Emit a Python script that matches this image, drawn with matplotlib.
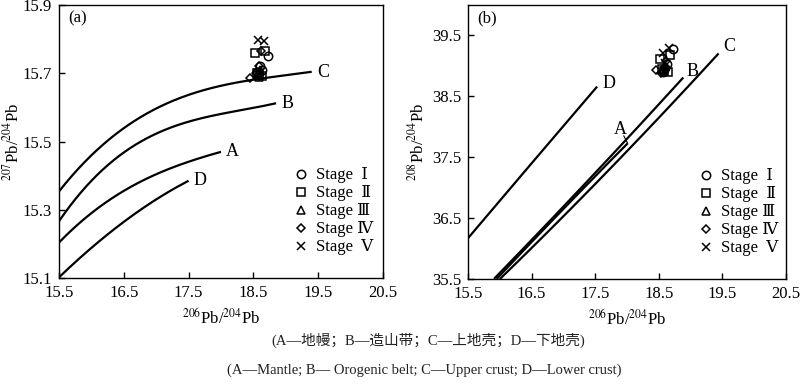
import matplotlib
matplotlib.use("Agg")
import matplotlib.pyplot as plt
import numpy as np

plt.rcParams['font.family'] = ['Liberation Serif', 'DejaVu Serif', 'Noto Sans CJK SC']
plt.rcParams['mathtext.fontset'] = 'stix'

# ---- Data: 207Pb/204Pb vs 206Pb/204Pb (panel a) ----
a_C_x = [15.5, 16.0, 16.5, 17.0, 17.5, 18.0, 18.5, 19.0, 19.4]
a_C_y = [15.352, 15.462, 15.540, 15.598, 15.632, 15.662, 15.684, 15.697, 15.702]
a_B_x = [15.5, 16.0, 16.5, 17.0, 17.5, 18.0, 18.5, 18.85]
a_B_y = [15.266, 15.385, 15.470, 15.522, 15.555, 15.583, 15.600, 15.611]
a_A_x = [15.5, 16.0, 16.5, 17.0, 17.5, 18.0]
a_A_y = [15.204, 15.290, 15.355, 15.405, 15.440, 15.470]
a_D_x = [15.5, 16.0, 16.5, 17.0, 17.5]
a_D_y = [15.102, 15.188, 15.265, 15.330, 15.385]

# ---- Data: 208Pb/204Pb vs 206Pb/204Pb (panel b) ----
b_C_x = [16.0, 16.8, 17.63, 18.5, 19.44]
b_C_y = [35.5, 36.32, 37.19, 38.16, 39.20]
b_B_x = [15.91, 16.7, 17.47, 18.2, 18.885]
b_B_y = [35.5, 36.37, 37.20, 38.03, 38.81]
b_A_x = [15.95, 16.7, 17.47, 18.01]
b_A_y = [35.5, 36.33, 37.15, 37.73]
b_D_x = [15.5, 16.5, 17.53]
b_D_y = [36.17, 37.40, 38.66]

# ---- Samples by stage: 206Pb/204Pb, 207Pb/204Pb, 208Pb/204Pb ----
s1_206 = [18.56, 18.60, 18.63, 18.73]
s1_207 = [15.705, 15.720, 15.710, 15.752]
s1_208 = [38.90, 38.97, 39.03, 39.27]
s2_206 = [18.52, 18.58, 18.64, 18.68, 18.55]
s2_207 = [15.758, 15.695, 15.692, 15.765, 15.700]
s2_208 = [39.12, 38.92, 38.90, 39.18, 38.95]
s3_206 = [18.57, 18.60, 18.58]
s3_207 = [15.700, 15.710, 15.690]
s3_208 = [38.93, 39.00, 38.95]
s4_206 = [18.45, 18.54, 18.62, 18.59]
s4_207 = [15.685, 15.700, 15.765, 15.720]
s4_208 = [38.93, 38.88, 39.08, 38.98]
s5_206 = [18.57, 18.66, 18.60]
s5_207 = [15.798, 15.795, 15.705]
s5_208 = [39.22, 39.30, 39.05]

stage_labels = ['Stage  \u2160', 'Stage  \u2161', 'Stage \u2162', 'Stage \u2163', 'Stage  \u2164']
stage_markers = ['o', 's', '^', 'D', 'x']
stage_sizes = [6, 6, 6, 4.5, 6]

x_ticks = [15.5, 16.5, 17.5, 18.5, 19.5, 20.5]
a_yticks = [15.1, 15.3, 15.5, 15.7, 15.9]
b_yticks = [35.5, 36.5, 37.5, 38.5, 39.5]


def smooth(xs, ys, deg):
    """Draw a smooth curve through the read points (display only)."""
    xs = np.asarray(xs, float)
    ys = np.asarray(ys, float)
    p = np.polyfit(xs, ys, deg)
    xx = np.linspace(xs[0], xs[-1], 200)
    return xx, np.polyval(p, xx)


fig = plt.figure(figsize=(8.0, 3.86), dpi=100)
axa = fig.add_axes([0.07375, 0.2798, 0.405, 0.7072])
axb = fig.add_axes([0.585, 0.2772, 0.3975, 0.7098])

samples_a = [(s1_206, s1_207), (s2_206, s2_207), (s3_206, s3_207), (s4_206, s4_207), (s5_206, s5_207)]
samples_b = [(s1_206, s1_208), (s2_206, s2_208), (s3_206, s3_208), (s4_206, s4_208), (s5_206, s5_208)]

lw = 1.6
for ax in (axa, axb):
    for sp in ax.spines.values():
        sp.set_linewidth(1.0)
    ax.tick_params(direction='in', length=4, width=1, labelsize=12, pad=5)
    ax.set_xlim(15.5, 20.5)
    ax.set_xticks(x_ticks)
    ax.set_xticklabels([f'{v:.1f}' for v in x_ticks])
    ax.set_xlabel(r'$^{206}$Pb/$^{204}$Pb', fontsize=12, labelpad=5)

# panel a
for xs, ys in [(a_C_x, a_C_y), (a_B_x, a_B_y), (a_A_x, a_A_y), (a_D_x, a_D_y)]:
    xx, yy = smooth(xs, ys, 3)
    axa.plot(xx, yy, color='black', lw=lw, solid_capstyle='butt', clip_on=True)
axa.text(a_C_x[-1] + 0.08, a_C_y[-1], 'C', fontsize=13, va='center', ha='left')
axa.text(a_B_x[-1] + 0.08, a_B_y[-1], 'B', fontsize=13, va='center', ha='left')
axa.text(a_A_x[-1] + 0.08, a_A_y[-1], 'A', fontsize=13, va='center', ha='left')
axa.text(a_D_x[-1] + 0.08, a_D_y[-1], 'D', fontsize=13, va='center', ha='left')
axa.set_ylim(15.1, 15.9)
axa.set_yticks(a_yticks)
axa.set_yticklabels([f'{v:.1f}' for v in a_yticks])
axa.set_ylabel(r'$^{207}$Pb/$^{204}$Pb', fontsize=12, labelpad=0)
axa.text(0.03, 0.95, '(a)', transform=axa.transAxes, fontsize=12, va='center', ha='left')

# panel b
for xs, ys in [(b_C_x, b_C_y), (b_B_x, b_B_y), (b_A_x, b_A_y), (b_D_x, b_D_y)]:
    xx, yy = smooth(xs, ys, 2)
    axb.plot(xx, yy, color='black', lw=lw, solid_capstyle='butt')
axb.text(b_C_x[-1] + 0.08, b_C_y[-1] + 0.12, 'C', fontsize=13, va='center', ha='left')
axb.text(b_B_x[-1] + 0.05, b_B_y[-1] + 0.1, 'B', fontsize=13, va='center', ha='left')
axb.text(b_D_x[-1] + 0.08, b_D_y[-1] + 0.05, 'D', fontsize=13, va='center', ha='left')
axb.text(b_A_x[-1] - 0.12, b_A_y[-1] + 0.22, 'A', fontsize=13, va='center', ha='center')
axb.plot([b_A_x[-1] - 0.06, b_A_x[-1]], [b_A_y[-1] + 0.12, b_A_y[-1]], color='black', lw=0.8)
axb.set_ylim(35.5, 40.0)
axb.set_yticks(b_yticks)
axb.set_yticklabels([f'{v:.1f}' for v in b_yticks])
axb.set_ylabel(r'$^{208}$Pb/$^{204}$Pb', fontsize=12, labelpad=3)
axb.text(0.03, 0.95, '(b)', transform=axb.transAxes, fontsize=12, va='center', ha='left')

for ax, samples in [(axa, samples_a), (axb, samples_b)]:
    handles = []
    for (xs, ys), m, ms, lab in zip(samples, stage_markers, stage_sizes, stage_labels):
        h, = ax.plot(xs, ys, linestyle='none', marker=m, markersize=ms,
                     markerfacecolor='none', markeredgecolor='black', markeredgewidth=1.1,
                     label=lab)
        handles.append(h)
    ax.legend(handles=handles, loc='lower left', bbox_to_anchor=(0.69, 0.04),
              frameon=False, fontsize=12, handlelength=0.8, handletextpad=0.5,
              labelspacing=0.12, borderpad=0.2)

fig.text(0.535, 0.117, '(A\u2014地幔；B\u2014造山带；C\u2014上地壳；D\u2014下地壳)',
         fontsize=10.5, ha='center', va='center', color='#222222')
fig.text(0.53, 0.041, '(A\u2014Mantle; B\u2014 Orogenic belt; C\u2014Upper crust; D\u2014Lower crust)',
         fontsize=10.5, ha='center', va='center', color='#222222')

fig.savefig('out.png', dpi=100)
